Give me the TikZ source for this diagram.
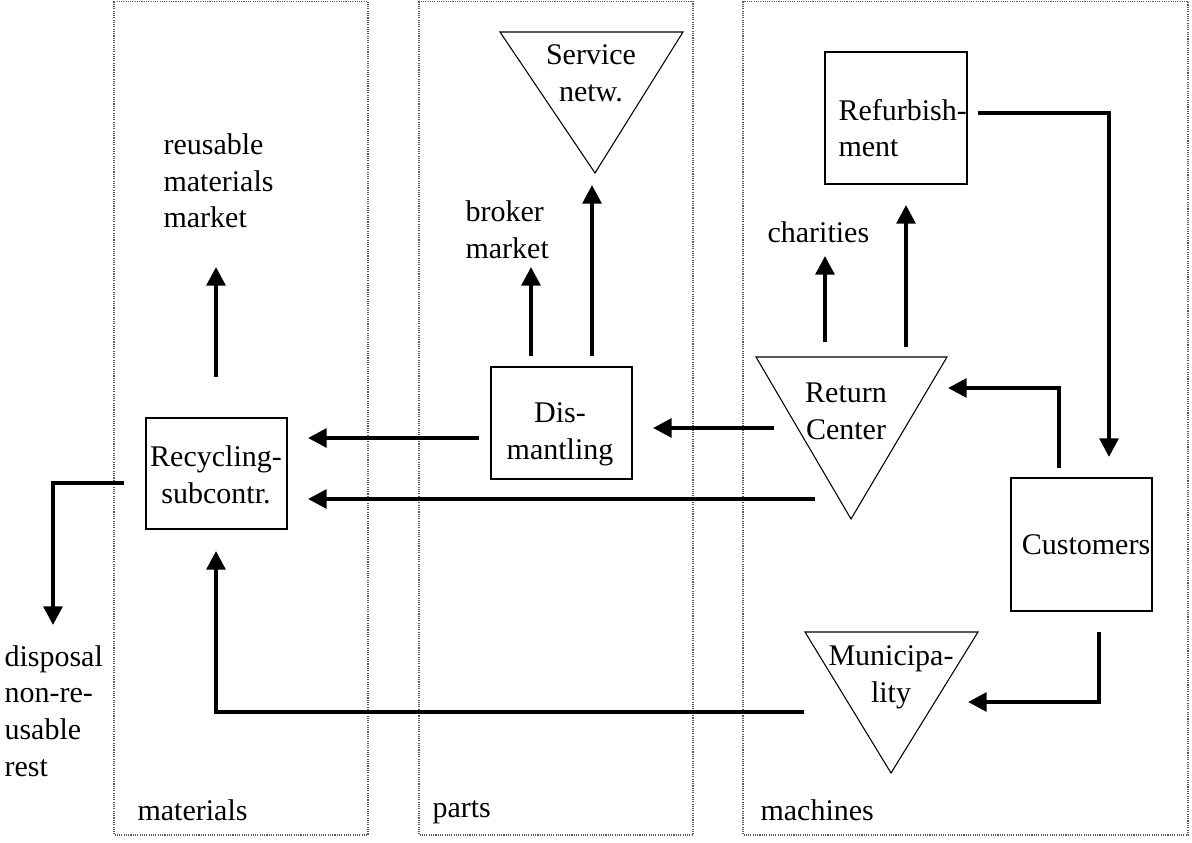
\documentclass[tikz,border=0pt]{standalone}
\usepackage{fontspec}
\setmainfont{Liberation Serif}
\usetikzlibrary{arrows.meta}
\begin{document}
\begin{tikzpicture}[x=0.375pt,y=-0.375pt,
  txt/.style={font=\fontsize{11.25pt}{13.76pt}\selectfont, inner sep=0pt, align=center},
  ltxt/.style={txt, align=left, anchor=west},
  box/.style={draw, line width=0.5pt, inner sep=0pt},
  tri/.style={draw, line width=0.4pt, line join=miter},
  flow/.style={line width=1.5pt, -{Triangle[length=7pt,width=7pt]}},
  panel/.style={draw=black!65, line width=0.45pt, dash pattern=on 0.4pt off 0.45pt}]
\useasboundingbox (0,0) rectangle (1192,843);
\fill[white] (0,0) rectangle (1192,843);

% panels
\draw[panel] (114,1.5) rectangle (368,835);
\draw[panel] (419,1.5) rectangle (693,835);
\draw[panel] (743,1.5) rectangle (1188,835);
\node[ltxt] (lmat) at (137,810) {materials};
\node[ltxt] (lpar) at (432,812) {parts};
\node[ltxt] (lmac) at (760,810) {machines};

% boxes
\node[box, minimum width=141*0.375pt, minimum height=111*0.375pt] (recyc) at (216.5,473.5) {};
\node[txt] (recyct) at (216,475) {Recycling-\\subcontr.};
\node[box, minimum width=141*0.375pt, minimum height=112*0.375pt] (dism) at (561.5,423) {};
\node[txt] (dismt) at (560,434) {Dis-\\mantling};
\node[box, minimum width=142*0.375pt, minimum height=132*0.375pt] (refu) at (896,118) {};
\node[ltxt] (refut) at (838,128) {Refurbish-\\ment};
\node[box, minimum width=141*0.375pt, minimum height=133*0.375pt] (cust) at (1081.5,544.5) {};
\node[txt] (custt) at (1086,545) {Customers};

% triangles
\coordinate (s1) at (500,32); \coordinate (s2) at (683,32); \coordinate (s3) at (595,173);
\draw[tri] (s1) -- (s2) -- (s3) -- cycle;
\node[txt] (serv) at (591,73) {Service\\netw.};
\coordinate (r1) at (756,357); \coordinate (r2) at (947,357); \coordinate (r3) at (851,519);
\draw[tri] (r1) -- (r2) -- (r3) -- cycle;
\node[txt] (retc) at (846,411) {Return\\Center};
\coordinate (m1) at (805,632); \coordinate (m2) at (978,632); \coordinate (m3) at (891,773);
\draw[tri] (m1) -- (m2) -- (m3) -- cycle;
\node[txt] (muni) at (891,677) {Municipa-\\lity};

% free labels
\node[ltxt] (reus) at (163,181) {reusable\\materials\\market};
\node[ltxt] (brok) at (465,230) {broker\\market};
\node[ltxt] (char) at (767,232) {charities};
\node[ltxt] (disp) at (4,711) {disposal\\non-re-\\usable\\rest};

% connector end points
\coordinate (a1s) at (216,377); \coordinate (a1e) at (216,267);
\coordinate (a2s) at (531,356); \coordinate (a2e) at (531,267);
\coordinate (a3s) at (592,356); \coordinate (a3e) at (592,185);
\coordinate (a4s) at (479,438); \coordinate (a4e) at (308,438);
\coordinate (a5s) at (774,428); \coordinate (a5e) at (653,428);
\coordinate (a6s) at (815,499); \coordinate (a6e) at (308,499);
\coordinate (a7s) at (825,342); \coordinate (a7e) at (825,256);
\coordinate (a8s) at (906,347); \coordinate (a8e) at (906,205);
\coordinate (a9s) at (978,113); \coordinate (a9e) at (1109,457);
\coordinate (a10s) at (1059,468); \coordinate (a10e) at (948,388);
\coordinate (a11s) at (1099,632); \coordinate (a11e) at (968,702);
\coordinate (a12s) at (804,712); \coordinate (a12e) at (216,551);
\coordinate (a13s) at (124,483); \coordinate (a13e) at (53,625);

\draw[flow] (a1s) -- (a1e);
\draw[flow] (a2s) -- (a2e);
\draw[flow] (a3s) -- (a3e);
\draw[flow] (a4s) -- (a4e);
\draw[flow] (a5s) -- (a5e);
\draw[flow] (a6s) -- (a6e);
\draw[flow] (a7s) -- (a7e);
\draw[flow] (a8s) -- (a8e);
\draw[flow] (a9s) -| (a9e);
\draw[flow] (a10s) |- (a10e);
\draw[flow] (a11s) |- (a11e);
\draw[flow] (a12s) -| (a12e);
\draw[flow] (a13s) -| (a13e);
\end{tikzpicture}
\end{document}
